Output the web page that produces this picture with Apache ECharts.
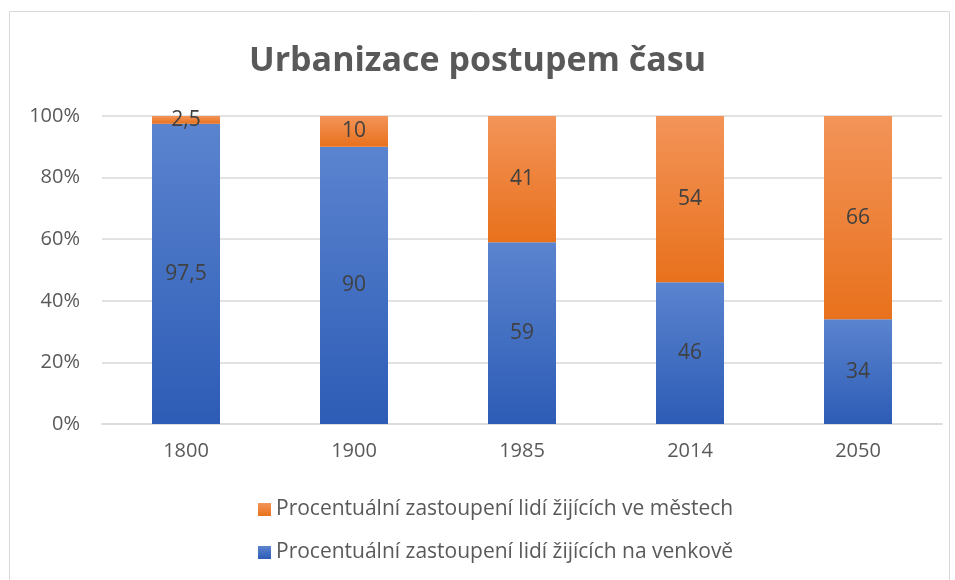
<!DOCTYPE html>
<html>
<head>
<meta charset="utf-8">
<script src="https://cdn.jsdelivr.net/npm/echarts@6/dist/echarts.min.js"></script>
<style>
  html, body { margin: 0; padding: 0; background: #fff; }
  #chart { width: 955px; height: 580px; }
</style>
</head>
<body>
<div id="chart"></div>
<script>
const years = ['1800', '1900', '1985', '2014', '2050']
const rural = [97.5, 90, 59, 46, 34]
const urban = [2.5, 10, 41, 54, 66]
const ruralName = 'Procentuální zastoupení lidí žijících na venkově'
const urbanName = 'Procentuální zastoupení lidí žijících ve městech'

const fontFamily = '"Open Sans", "Noto Sans", sans-serif'

const blueGrad = new echarts.graphic.LinearGradient(0, 0, 0, 1, [
    { offset: 0, color: '#5b84cf' },
    { offset: 1, color: '#2d5cb6' }
])
const orangeGrad = new echarts.graphic.LinearGradient(0, 0, 0, 1, [
    { offset: 0, color: '#f39459' },
    { offset: 1, color: '#e8711c' }
])

// čísla s desetinnou čárkou
const fmt = p => String(p.value).replace('.', ',')

const chart = echarts.init(document.getElementById('chart'))
const option = {
    animation: false,
    textStyle: { fontFamily },
    graphic: [{
        type: 'rect',
        shape: { x: 9.5, y: 11.5, width: 940, height: 580 },
        style: { fill: 'none', stroke: '#d9d9d9', lineWidth: 1 },
        silent: true
    }],
    title: {
        text: 'Urbanizace postupem času',
        left: 'center',
        top: 39,
        textStyle: { fontFamily, fontSize: 34, fontWeight: 'bold', color: '#595959' }
    },
    legend: {
        orient: 'vertical',
        left: 253,
        top: 494,
        itemGap: 22,
        itemWidth: 13,
        itemHeight: 13,
        icon: 'rect',
        data: [urbanName, ruralName],
        textStyle: { fontFamily, fontSize: 21, color: '#595959' }
    },
    grid: { left: 102, right: 13, top: 116, bottom: 156, containLabel: false },
    xAxis: {
        type: 'category',
        data: years,
        axisLine: { lineStyle: { color: '#d9d9d9', width: 1.5 } },
        axisTick: { show: false },
        axisLabel: { fontFamily, fontSize: 20, color: '#595959', margin: 17 }
    },
    yAxis: {
        type: 'value',
        min: 0,
        max: 100,
        interval: 20,
        axisLine: { show: false },
        axisTick: { show: false },
        splitLine: { lineStyle: { color: '#d9d9d9', width: 1.5 } },
        axisLabel: { fontFamily, fontSize: 20, color: '#595959', margin: 22, formatter: '{value}%' }
    },
    series: [
        {
            name: ruralName,
            type: 'bar',
            stack: 'total',
            barWidth: 68,
            data: rural,
            itemStyle: { color: blueGrad },
            label: { show: true, position: 'inside', formatter: fmt, fontFamily, fontSize: 21, color: '#404040' }
        },
        {
            name: urbanName,
            type: 'bar',
            stack: 'total',
            barWidth: 68,
            data: urban,
            itemStyle: { color: orangeGrad },
            label: { show: true, position: 'inside', formatter: fmt, fontFamily, fontSize: 21, color: '#404040' }
        }
    ]
}
chart.setOption(option)
</script>
</body>
</html>
